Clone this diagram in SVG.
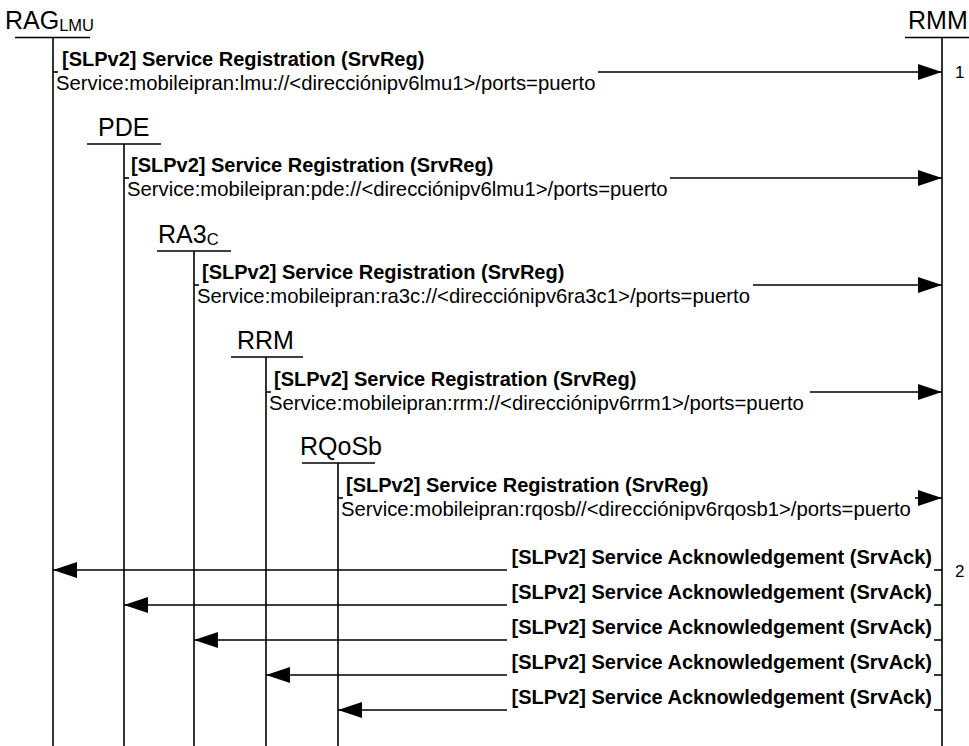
<svg xmlns="http://www.w3.org/2000/svg" width="969" height="746" viewBox="0 0 969 746">
<style>
.life{stroke:#000;stroke-width:1.6;fill:none}
.hl{stroke:#000;stroke-width:1.6;fill:none}
.ln{stroke:#000;stroke-width:1.6;fill:none}
.hd{font-family:"Liberation Sans",Arial,sans-serif;font-size:25px;fill:#000}
.sub{font-size:16.5px}
.b{font-family:"Liberation Sans",Arial,sans-serif;font-size:20px;font-weight:bold;fill:#000}
.n{font-family:"Liberation Sans",Arial,sans-serif;font-size:20.3px;fill:#000}
.num{font-family:"Liberation Sans",Arial,sans-serif;font-size:17px;fill:#000}
</style>
<defs>
<marker id="ah" markerUnits="userSpaceOnUse" markerWidth="26" markerHeight="18" refX="24" refY="8" orient="auto">
<path d="M0,0 L24,8 L0,16 Z" fill="#000"/>
</marker>
</defs>
<rect width="969" height="746" fill="#fff"/>

<g id="RAG">
<text class="hd" x="5" y="29">RAG<tspan class="sub" dy="2">LMU</tspan></text>
<line class="hl" x1="15" y1="37.5" x2="90" y2="37.5"/>
<line class="life" x1="53" y1="37.5" x2="53" y2="746"/>
</g>
<g id="RMM">
<text class="hd" x="908" y="29">RMM</text>
<line class="hl" x1="905" y1="37.5" x2="969" y2="37.5"/>
<line class="life" x1="942" y1="37.5" x2="942" y2="746"/>
</g>
<g id="PDE">
<text class="hd" x="98" y="136">PDE</text>
<line class="hl" x1="87" y1="144" x2="161" y2="144"/>
<line class="life" x1="124" y1="144" x2="124" y2="746"/>
</g>
<g id="RA3C">
<text class="hd" x="158" y="243">RA3<tspan class="sub" dy="2">C</tspan></text>
<line class="hl" x1="157" y1="251" x2="231" y2="251"/>
<line class="life" x1="194" y1="251" x2="194" y2="746"/>
</g>
<g id="RRM">
<text class="hd" x="237" y="349">RRM</text>
<line class="hl" x1="231" y1="357" x2="303" y2="357"/>
<line class="life" x1="266" y1="357" x2="266" y2="746"/>
</g>
<g id="RQoSb">
<text class="hd" x="300" y="455">RQoSb</text>
<line class="hl" x1="302" y1="463" x2="375" y2="463"/>
<line class="life" x1="338" y1="463" x2="338" y2="746"/>
</g>

<g id="connectors">
<!-- registrations -->
<line class="ln" x1="53" y1="72" x2="58" y2="72"/>
<line class="ln" x1="598" y1="72" x2="942" y2="72" marker-end="url(#ah)"/>
<line class="ln" x1="124" y1="178" x2="129" y2="178"/>
<line class="ln" x1="670" y1="178" x2="942" y2="178" marker-end="url(#ah)"/>
<line class="ln" x1="194" y1="285" x2="199" y2="285"/>
<line class="ln" x1="753" y1="285" x2="942" y2="285" marker-end="url(#ah)"/>
<line class="ln" x1="266" y1="392" x2="271" y2="392"/>
<line class="ln" x1="810" y1="392" x2="942" y2="392" marker-end="url(#ah)"/>
<line class="ln" x1="338" y1="498" x2="343" y2="498"/>
<line class="ln" x1="915" y1="498" x2="942" y2="498" marker-end="url(#ah)"/>
<!-- acks -->
<line class="ln" x1="934" y1="570" x2="942" y2="570"/>
<line class="ln" x1="507" y1="570" x2="53" y2="570" marker-end="url(#ah)"/>
<line class="ln" x1="934" y1="605" x2="942" y2="605"/>
<line class="ln" x1="507" y1="605" x2="124" y2="605" marker-end="url(#ah)"/>
<line class="ln" x1="934" y1="640" x2="942" y2="640"/>
<line class="ln" x1="507" y1="640" x2="194" y2="640" marker-end="url(#ah)"/>
<line class="ln" x1="934" y1="675" x2="942" y2="675"/>
<line class="ln" x1="507" y1="675" x2="266" y2="675" marker-end="url(#ah)"/>
<line class="ln" x1="934" y1="710" x2="942" y2="710"/>
<line class="ln" x1="507" y1="710" x2="338" y2="710" marker-end="url(#ah)"/>
</g>

<g id="labels">
<text class="b" x="62" y="66">[SLPv2] Service Registration (SrvReg)</text>
<text class="n" x="56" y="90">Service:mobileipran:lmu://&lt;direcciónipv6lmu1&gt;/ports=puerto</text>
<text class="b" x="131" y="172">[SLPv2] Service Registration (SrvReg)</text>
<text class="n" x="127" y="196">Service:mobileipran:pde://&lt;direcciónipv6lmu1&gt;/ports=puerto</text>
<text class="b" x="202" y="279">[SLPv2] Service Registration (SrvReg)</text>
<text class="n" x="197" y="303">Service:mobileipran:ra3c://&lt;direcciónipv6ra3c1&gt;/ports=puerto</text>
<text class="b" x="274" y="386">[SLPv2] Service Registration (SrvReg)</text>
<text class="n" x="269" y="410">Service:mobileipran:rrm://&lt;direcciónipv6rrm1&gt;/ports=puerto</text>
<text class="b" x="346" y="492">[SLPv2] Service Registration (SrvReg)</text>
<text class="n" x="341" y="516">Service:mobileipran:rqosb//&lt;direcciónipv6rqosb1&gt;/ports=puerto</text>
<text class="b" x="932" y="564" text-anchor="end">[SLPv2] Service Acknowledgement (SrvAck)</text>
<text class="b" x="932" y="599" text-anchor="end">[SLPv2] Service Acknowledgement (SrvAck)</text>
<text class="b" x="932" y="634" text-anchor="end">[SLPv2] Service Acknowledgement (SrvAck)</text>
<text class="b" x="932" y="669" text-anchor="end">[SLPv2] Service Acknowledgement (SrvAck)</text>
<text class="b" x="932" y="704" text-anchor="end">[SLPv2] Service Acknowledgement (SrvAck)</text>
<text class="num" x="955" y="78">1</text>
<text class="num" x="955" y="577">2</text>
</g>
</svg>
